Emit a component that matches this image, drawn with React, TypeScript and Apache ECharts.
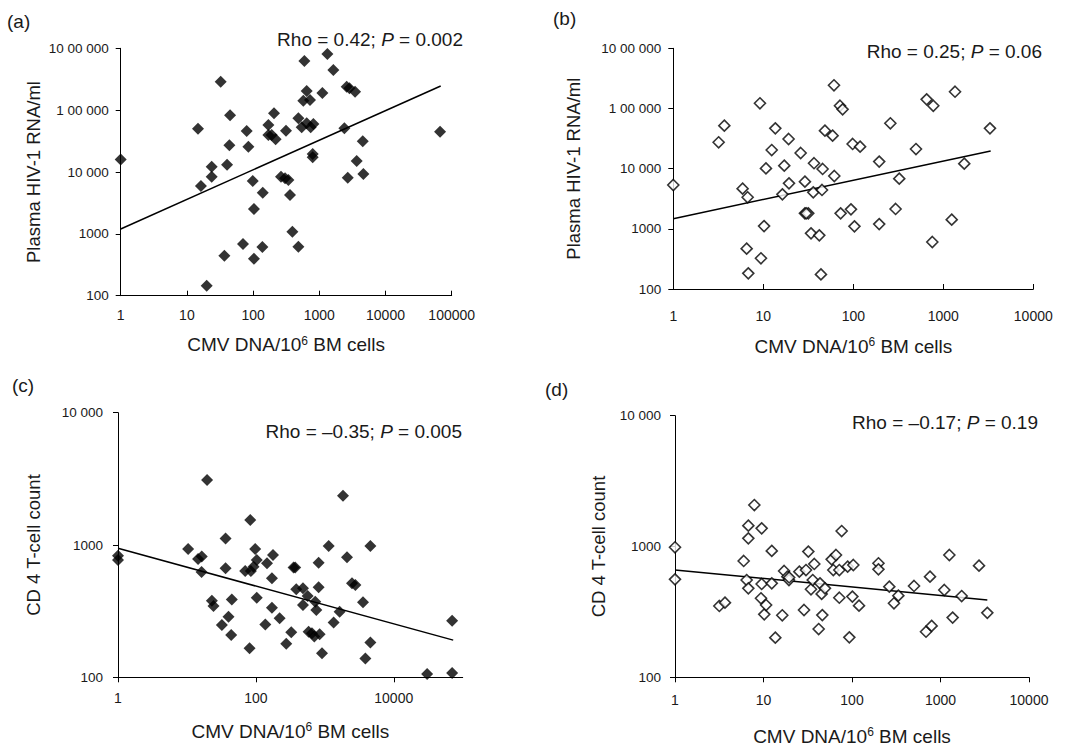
import React, { useEffect, useRef } from "react";
import * as echarts from "echarts";

// ---------- data ----------
const aX = [1, 14.7, 16.3, 19.9, 23.7, 23.7, 32.4, 36.8, 40.4, 43.8, 44.9, 70.4, 80, 84.8, 98.7, 103, 103, 138, 140, 170, 170, 191, 207, 219, 264, 304, 314, 341, 361, 392, 483, 483, 542, 595, 574, 645, 645, 724, 741, 813, 795, 795, 1112, 1324, 1630, 2390, 2590, 2850, 2690, 3470, 3670, 4530, 4630, 66700];
const aY = [16000, 50000, 5940, 145, 12200, 8400, 289000, 444, 13100, 27000, 82400, 685, 46000, 25700, 7150, 2520, 396, 612, 4630, 57500, 39700, 39700, 88900, 33800, 8400, 7900, 46600, 7430, 4250, 1080, 620, 73800, 52800, 624000, 142000, 204000, 61200, 146000, 52800, 59700, 19500, 17300, 190000, 809000, 447000, 50800, 240000, 225000, 8100, 199000, 15100, 31300, 9290, 44900];

const bX = [1, 3.19, 3.69, 5.89, 6.7, 6.53, 6.81, 9.18, 9.42, 10.2, 10.7, 12.4, 13.6, 16.3, 17.1, 19.1, 19.3, 26, 29, 29, 31.6, 30, 33.9, 35.9, 36.6, 41.9, 43.7, 44.9, 45.6, 48.4, 58.9, 61, 61.5, 71.1, 76.1, 72.3, 94.2, 98.3, 103, 119, 194, 194, 258, 295, 324, 497, 653, 774, 755, 1240, 1350, 1710, 3300];
const bY = [5350, 27400, 51800, 4650, 3340, 468, 182, 122000, 324, 1110, 10100, 20400, 46800, 3740, 11200, 31100, 5700, 18200, 6080, 1810, 1810, 1810, 841, 4040, 12300, 780, 175, 4420, 9870, 42800, 35300, 243000, 7550, 111000, 96800, 1810, 2110, 25700, 1100, 23200, 13100, 1200, 56700, 2140, 6820, 21200, 142000, 111000, 604, 1420, 190000, 12100, 46800];

const cX = [1, 1, 10.4, 14.5, 16.4, 16.3, 19.6, 23, 24.3, 32.1, 36.3, 36.3, 40.1, 44.8, 43.8, 70, 81, 82.8, 84.6, 92.5, 97.8, 103, 103, 137, 145, 171, 177, 171, 221, 276, 326, 352, 372, 385, 482, 563, 482, 582, 651, 704, 727, 753, 813, 813, 841, 910, 1137, 1343, 1641, 1836, 2099, 2481, 2774, 3583, 3873, 4583, 4583, 30500, 70300, 70300];
const cY = [830, 771, 933, 784, 817, 625, 3100, 379, 346, 248, 1122, 666, 287, 388, 209, 636, 166, 1545, 636, 686, 933, 771, 400, 251, 727, 560, 840, 336, 279, 179, 219, 675, 675, 462, 471, 412, 352, 221, 215, 203, 373, 323, 735, 479, 212, 152, 982, 259, 313, 2360, 807, 513, 499, 369, 139, 982, 183, 106, 108, 267];

const dX = [1, 1, 3.17, 3.67, 5.97, 6.45, 6.74, 6.74, 6.74, 7.88, 9.53, 9.37, 9.53, 10.2, 10.7, 12.4, 12.4, 13.6, 16.3, 17.1, 18.6, 19.4, 19.5, 25.4, 30.2, 28.7, 32.1, 34.4, 36, 37.5, 42, 43.5, 45.4, 46.2, 49.5, 58.9, 61.5, 65.9, 71.9, 71.9, 76.4, 89.3, 93.3, 103.5, 101, 120, 199, 199, 264, 298, 334, 502, 686, 794, 761, 1104, 1259, 1372, 1734, 2723, 3381];
const dY = [986, 561, 351, 372, 775, 554, 1154, 479, 1443, 2075, 1376, 402, 517, 303, 357, 925, 523, 201, 298, 650, 588, 554, 580, 642, 661, 327, 914, 471, 554, 735, 234, 523, 434, 299, 479, 798, 661, 861, 661, 406, 1313, 701, 202, 722, 414, 353, 744, 669, 493, 368, 421, 499, 223, 247, 588, 465, 861, 286, 418, 714, 311];

// regression lines (end points)
const aTrendX = [1, 68200];
const aTrendY = [1200, 246000];
const bTrendX = [1, 3360];
const bTrendY = [1475, 19700];
const cTrendX = [1, 72800];
const cTrendY = [944, 191];
const dTrendX = [1, 3381];
const dTrendY = [661, 390];

const panelLabels = ["(a)", "(b)", "(c)", "(d)"];
const statTexts = [
  "Rho = 0.42; {i|P} = 0.002",
  "Rho = 0.25; {i|P} = 0.06",
  "Rho = \u20130.35; {i|P} = 0.005",
  "Rho = \u20130.17; {i|P} = 0.19",
];
const yTitles = ["Plasma HIV-1 RNA/ml", "Plasma HIV-1 RNA/ml", "CD 4 T-cell count", "CD 4 T-cell count"];
const xTitle = "CMV DNA/10{sup|6} BM cells";
const yTickText: Record<number, string> = { 2: "100", 3: "1000", 4: "10 000", 5: "1 00 000", 6: "10 00 000" };

const FONT = "'Liberation Sans', Arial, Helvetica, sans-serif";
const INK = "#1a1a1a";

const pairs = (xs: number[], ys: number[]) => xs.map((x, i) => [x, ys[i]]);

export default function App() {
  const ref = useRef<HTMLDivElement>(null);

  useEffect(() => {
    if (!ref.current) return;
    const chart = echarts.init(ref.current, undefined, { renderer: "svg" });

    const grids = [
      { left: 120.7, top: 48.3, width: 331, height: 247.4 },
      { left: 673.3, top: 48.3, width: 360, height: 240.7 },
      { left: 118, top: 412.7, width: 344.7, height: 264.6 },
      { left: 675, top: 415.7, width: 354, height: 261.6 },
    ];
    const xCfg = [
      { max: 100000, base: 10, inside: true, margin: 12, gap: 39 },
      { max: 10000, base: 10, inside: true, margin: 20, gap: 47 },
      { max: 100000, base: 100, inside: false, margin: 14, gap: 44 },
      { max: 10000, base: 10, inside: false, margin: 16, gap: 49 },
    ];
    const yCfg = [
      { min: 100, max: 1000000, gap: 78, margin: 12 },
      { min: 100, max: 1000000, gap: 90, margin: 12 },
      { min: 100, max: 10000, gap: 75, margin: 15 },
      { min: 100, max: 10000, gap: 67, margin: 14 },
    ];

    const axisLine = { show: true, onZero: false, lineStyle: { color: "#000", width: 1 } };

    const xAxis = xCfg.map((c, i) => ({
      type: "log",
      logBase: c.base,
      gridIndex: i,
      min: 1,
      max: c.max,
      axisLine,
      axisTick: { show: true, inside: c.inside, length: 5, lineStyle: { color: "#000" } },
      splitLine: { show: false },
      axisLabel: {
        margin: c.margin,
        color: INK,
        fontSize: 14,
        fontFamily: FONT,
        showMaxLabel: i !== 2,
        formatter: (v: number) => String(Math.round(v)),
      },
      name: xTitle,
      nameLocation: "middle",
      nameGap: c.gap,
      nameTextStyle: {
        color: INK,
        fontSize: 19,
        fontFamily: FONT,
        rich: {
          sup: { fontSize: 12, fontFamily: FONT, color: INK, padding: [0, 0, 8, 0] },
        },
      },
    }));

    const yAxis = yCfg.map((c, i) => ({
      type: "log",
      logBase: 10,
      gridIndex: i,
      min: c.min,
      max: c.max,
      axisLine,
      axisTick: { show: true, inside: false, length: 5, lineStyle: { color: "#000" } },
      splitLine: { show: false },
      axisLabel: {
        margin: c.margin,
        color: INK,
        fontSize: 13.5,
        fontFamily: FONT,
        formatter: (v: number) => yTickText[Math.round(Math.log10(v))] ?? "",
      },
      name: yTitles[i],
      nameLocation: "middle",
      nameGap: c.gap,
      nameTextStyle: { color: INK, fontSize: 18.5, fontFamily: FONT },
    }));

    const filled = { color: "#000" };
    const hollow = { color: "#fff", borderColor: "#000", borderWidth: 1.6 };
    const scatterData = [pairs(aX, aY), pairs(bX, bY), pairs(cX, cY), pairs(dX, dY)];
    const trendData = [
      pairs(aTrendX, aTrendY),
      pairs(bTrendX, bTrendY),
      pairs(cTrendX, cTrendY),
      pairs(dTrendX, dTrendY),
    ];

    const series: any[] = [];
    scatterData.forEach((d, i) => {
      series.push({
        type: "line",
        xAxisIndex: i,
        yAxisIndex: i,
        data: trendData[i],
        showSymbol: false,
        symbol: "none",
        lineStyle: { color: "#000", width: 1.5 },
        z: 2,
      });
      series.push({
        type: "scatter",
        xAxisIndex: i,
        yAxisIndex: i,
        data: d,
        symbol: "diamond",
        symbolSize: i % 2 === 0 ? 12 : 11,
        itemStyle: i % 2 === 0 ? filled : hollow,
        z: 3,
      });
    });

    const labelPos = [
      [7, 21],
      [553, 18],
      [12, 385],
      [545, 389],
    ];
    const statPos = [
      [463, 39],
      [1042, 51],
      [462, 431],
      [1038, 422],
    ];
    const graphic: any[] = [];
    panelLabels.forEach((t, i) => {
      graphic.push({
        type: "text",
        x: labelPos[i][0],
        y: labelPos[i][1],
        style: { text: t, fill: INK, font: `19px ${FONT}`, align: "left", verticalAlign: "middle" },
      });
      graphic.push({
        type: "text",
        x: statPos[i][0],
        y: statPos[i][1],
        style: {
          text: statTexts[i],
          fill: INK,
          font: `19px ${FONT}`,
          align: "right",
          verticalAlign: "middle",
          rich: { i: { fontStyle: "italic", fontSize: 19, fontFamily: FONT, fill: INK } },
        },
      });
    });

    chart.setOption({
      animation: false,
      backgroundColor: "#fff",
      grid: grids,
      xAxis,
      yAxis,
      series,
      graphic,
    });

    return () => chart.dispose();
  }, []);

  return (
    <div
      ref={ref}
      style={{ position: "fixed", left: 0, top: 0, width: 1074, height: 749, background: "#fff" }}
    />
  );
}
